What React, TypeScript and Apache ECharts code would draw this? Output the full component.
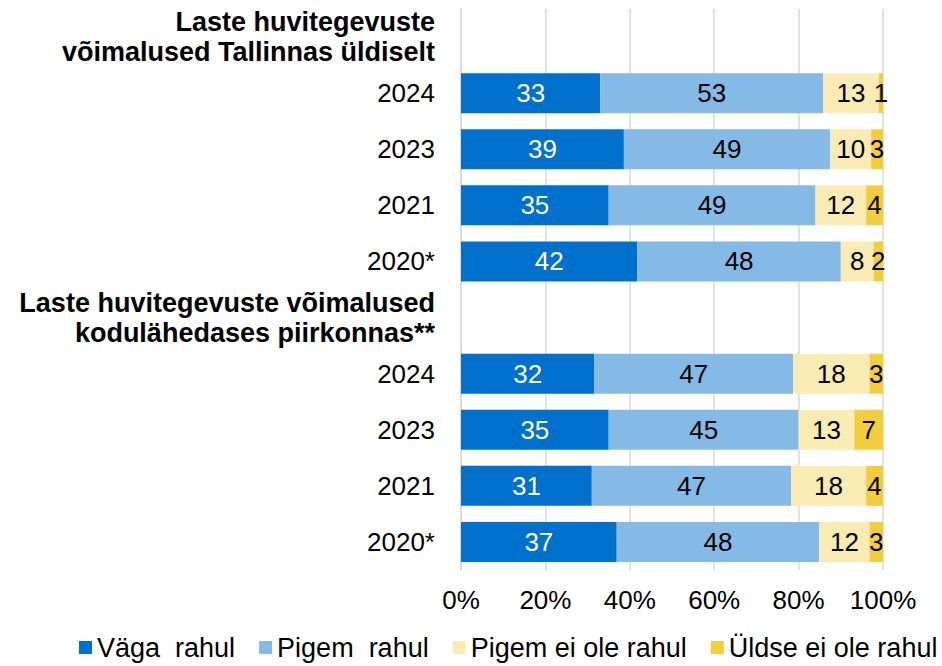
import React, { useEffect, useRef } from "react";
import * as echarts from "echarts";

const categories = [
  "Laste huvitegevuste\nvõimalused Tallinnas üldiselt",
  "2024",
  "2023",
  "2021",
  "2020*",
  "Laste huvitegevuste võimalused\nkodulähedases piirkonnas**",
  "2024",
  "2023",
  "2021",
  "2020*",
];
const headerRows = [0, 5];

const seriesNames = ["Väga  rahul", "Pigem  rahul", "Pigem ei ole rahul", "Üldse ei ole rahul"];
const vagaRahul = [null, 33, 38.6, 35, 41.8, null, 31.6, 35, 31, 36.9];
const pigemRahul = [null, 52.8, 48.9, 49, 48.2, null, 47.1, 45, 47.2, 48];
const pigemEiOleRahul = [null, 13.2, 9.7, 12, 7.8, null, 18.1, 13.2, 17.8, 11.9];
const uldseEiOleRahul = [null, 1, 2.8, 4, 2.2, null, 3.2, 6.8, 4, 3.2];

const xTicks = [0, 20, 40, 60, 80, 100];

const colors = ["#0070CD", "#85B9E6", "#FAEBB4", "#F2CD3E"];
const labelColors = ["#ffffff", "#000000", "#000000", "#000000"];
const FONT = "'Liberation Sans', Arial, sans-serif";

export default function App() {
  const ref = useRef<HTMLDivElement>(null);
  useEffect(() => {
    if (!ref.current) return;
    const chart = echarts.init(ref.current, undefined, { renderer: "svg" });
    const allData = [vagaRahul, pigemRahul, pigemEiOleRahul, uldseEiOleRahul];
    chart.setOption({
      animation: false,
      textStyle: { fontFamily: FONT },
      grid: { left: 461, right: 59, top: 9, bottom: 96, containLabel: false },
      legend: {
        data: seriesNames,
        left: 79,
        top: 634,
        padding: 0,
        itemGap: 24,
        itemWidth: 13,
        itemHeight: 13,
        icon: "rect",
        textStyle: { fontSize: 27, color: "#000", fontFamily: FONT },
      },
      xAxis: {
        type: "value",
        min: xTicks[0],
        max: xTicks[xTicks.length - 1],
        interval: 20,
        axisLine: { show: false },
        axisTick: { show: false },
        splitLine: { show: true, lineStyle: { color: "#d9d9d9", width: 1.5 } },
        axisLabel: {
          formatter: "{value}%",
          fontSize: 26,
          color: "#000",
          margin: 17,
          fontFamily: FONT,
        },
      },
      yAxis: {
        type: "category",
        data: categories,
        inverse: true,
        axisLine: { show: true, lineStyle: { color: "#d9d9d9", width: 1.5 } },
        axisTick: { show: false },
        axisLabel: {
          margin: 26,
          fontSize: 26,
          color: "#000",
          fontFamily: FONT,
          formatter: (value: string, idx: number) => {
            if (headerRows.includes(idx)) {
              return value
                .split("\n")
                .map((l) => `{h|${l}}`)
                .join("\n");
            }
            return value;
          },
          rich: {
            h: {
              fontSize: 27,
              fontWeight: "bold",
              lineHeight: 30,
              color: "#000",
              fontFamily: FONT,
            },
          },
        },
      },
      series: seriesNames.map((name, i) => ({
        name,
        type: "bar",
        stack: "total",
        barWidth: 40,
        data: allData[i],
        itemStyle: { color: colors[i] },
        label: {
          show: true,
          position: "inside",
          fontSize: 26,
          color: labelColors[i],
          fontFamily: FONT,
          formatter: (p: any) => (p.value == null ? "" : String(Math.round(p.value))),
        },
      })),
    });
    return () => chart.dispose();
  }, []);
  return (
    <div
      ref={ref}
      style={{ position: "fixed", left: 0, top: 0, width: 942, height: 666, background: "#fff" }}
    />
  );
}
